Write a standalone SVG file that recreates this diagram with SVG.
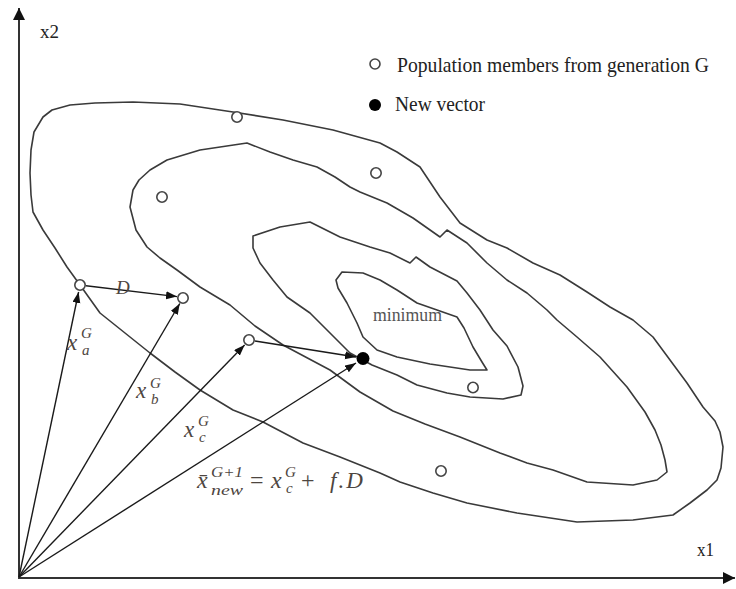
<svg xmlns="http://www.w3.org/2000/svg" width="736" height="589" viewBox="0 0 736 589">
<style>
.contour{fill:none;stroke:#3a3a3a;stroke-width:1.6;stroke-linejoin:round;stroke-linecap:round}
.axis{stroke:#333;stroke-width:2;fill:none}
.vec{stroke:#1a1a1a;stroke-width:1.4;fill:none}
.pop{fill:#fff;stroke:#444;stroke-width:1.6}
.new{fill:#000}
.serif{font-family:"Liberation Serif","Times New Roman",serif;fill:#222}
.math{font-family:"Liberation Serif","DejaVu Serif",serif;font-style:italic;fill:#4d4540}
</style>
<defs>
<marker id="arr" markerUnits="userSpaceOnUse" markerWidth="12" markerHeight="9" refX="11" refY="4" orient="auto">
<path d="M0,0 L11,4 L0,8 Z" fill="#111"/>
</marker>
<marker id="axarr" markerUnits="userSpaceOnUse" markerWidth="13" markerHeight="13" refX="12" refY="6" orient="auto">
<path d="M0,0 L12,6 L0,12 Z" fill="#111"/>
</marker>
</defs>
<rect width="736" height="589" fill="#fff"/>

<g id="axes">
<line class="axis" x1="19" y1="578" x2="19" y2="8" marker-end="url(#axarr)"/>
<line class="axis" x1="18" y1="578" x2="735" y2="578" marker-end="url(#axarr)"/>
<text class="serif" x="40" y="38" font-size="18" textLength="19" lengthAdjust="spacingAndGlyphs">x2</text>
<text class="serif" x="697" y="556" font-size="18" textLength="17" lengthAdjust="spacingAndGlyphs">x1</text>
</g>

<g id="contours">
<path id="contour1" class="contour" d="M80,285 L100,313 L125,333 L150,353 L175,372 L200,390 L233,410 L263,422 L303,443 L340,457 L380,473 L400,482 L433,493 L467,503 L517,513 L577,522 L633,520 L673,515 L690,503 L707,490 L717,480 L721,468 L723,447 L720,432 L715,421 L703,407 L687,383 L670,360 L653,337 L633,320 L610,307 L587,292 L560,275 L533,263 L507,248 L487,240 L460,223 L440,197 L420,167 L397,152 L380,143 L333,130 L283,120 L233,112 L180,104 L133,102 L95,103 L70,105 L52,110 L43,117 L34,132 L31,150 L30,173 L31,195 L33,212 L43,230 L55,248 L67,267 Z"/>
<path id="contour2" class="contour" d="M130,207 L133,190 L139,180 L150,170 L167,160 L200,150 L247,143 L270,152 L293,160 L317,167 L335,177 L350,187 L360,192 L387,203 L413,218 L440,237 L447,230 L467,243 L487,263 L507,280 L527,293 L547,310 L557,320 L577,337 L600,357 L627,387 L645,412 L655,430 L661,445 L665,460 L667,472 L657,480 L633,485 L587,482 L553,470 L527,463 L500,453 L460,437 L425,424 L393,411 L360,392 L330,370 L283,345 L255,326 L230,305 L200,287 L177,270 L160,258 L147,247 L136,230 Z"/>
<path id="contour3" class="contour" d="M253,236 L280,227 L310,222 L340,237 L370,247 L390,253 L410,263 L416,257 L430,267 L457,281 L467,293 L480,310 L493,330 L507,346 L518,367 L523,386 L521,395 L503,399 L470,397 L447,393 L417,385 L397,375 L372,365 L350,353 L330,333 L310,313 L287,297 L273,280 L260,263 L253,248 Z"/>
<path id="contour4" class="contour" d="M336,280 L342,272 L363,273 L380,280 L397,290 L417,303 L437,310 L457,317 L464,328 L473,347 L482,362 L487,370 L470,370 L430,364 L397,357 L377,350 L363,337 L357,323 L347,303 L338,288 Z"/>
<text class="serif" x="373" y="321" font-size="19" textLength="69" lengthAdjust="spacingAndGlyphs" style="fill:#555">minimum</text>
</g>

<g id="connectors">
<line class="vec" x1="19" y1="577" x2="78.6" y2="292" marker-end="url(#arr)"/>
<line class="vec" x1="19" y1="577" x2="179.8" y2="303.5" marker-end="url(#arr)"/>
<line class="vec" x1="19" y1="577" x2="244.6" y2="345" marker-end="url(#arr)"/>
<line class="vec" x1="19" y1="577" x2="356" y2="363" marker-end="url(#arr)"/>
<line class="vec" x1="86" y1="285.7" x2="177" y2="296.6" marker-end="url(#arr)"/>
<line class="vec" x1="255" y1="341" x2="356" y2="357" marker-end="url(#arr)"/>
</g>

<g id="labels">
<text class="math" x="116" y="294" font-size="19">D</text>
<text class="math" x="67" y="350" font-size="23">x</text>
<text class="math" x="81" y="338" font-size="15">G</text>
<text class="math" x="82" y="355" font-size="15">a</text>
<text class="math" x="136" y="398" font-size="23">x</text>
<text class="math" x="150" y="388" font-size="15">G</text>
<text class="math" x="151" y="404" font-size="15">b</text>
<text class="math" x="184" y="437" font-size="23">x</text>
<text class="math" x="198" y="426" font-size="15">G</text>
<text class="math" x="199" y="442" font-size="15">c</text>
<text class="math" x="197" y="488" font-size="24">x̄</text>
<text class="math" x="211" y="477" font-size="15" textLength="32" lengthAdjust="spacingAndGlyphs">G+1</text>
<text class="math" x="211" y="495" font-size="15" textLength="32" lengthAdjust="spacingAndGlyphs">new</text>
<text class="math" x="250" y="488" font-size="24" style="font-style:normal">=</text>
<text class="math" x="271" y="488" font-size="24">x</text>
<text class="math" x="285" y="477" font-size="15">G</text>
<text class="math" x="286" y="493" font-size="15">c</text>
<text class="math" x="301" y="488" font-size="24" style="font-style:normal">+</text>
<text class="math" x="330" y="488" font-size="23" letter-spacing="2">f.D</text>
</g>

<g id="node-p1"><circle class="pop" cx="237" cy="117" r="5.2"/></g>
<g id="node-p2"><circle class="pop" cx="162" cy="197" r="5.2"/></g>
<g id="node-p3"><circle class="pop" cx="376" cy="173" r="5.2"/></g>
<g id="node-xa"><circle class="pop" cx="80" cy="285" r="5.2"/></g>
<g id="node-xb"><circle class="pop" cx="183" cy="298" r="5.2"/></g>
<g id="node-xc"><circle class="pop" cx="249" cy="340" r="5.2"/></g>
<g id="node-p7"><circle class="pop" cx="473" cy="387.5" r="5.2"/></g>
<g id="node-p8"><circle class="pop" cx="441" cy="471" r="5.2"/></g>
<g id="node-new"><circle class="new" cx="363" cy="358.5" r="6.5"/></g>

<g id="legend">
<circle class="pop" cx="375" cy="64" r="5"/>
<text class="serif" x="397" y="72" font-size="21" textLength="312" lengthAdjust="spacingAndGlyphs">Population members from generation G</text>
<circle class="new" cx="375" cy="105" r="6"/>
<text class="serif" x="395" y="111" font-size="21" textLength="90" lengthAdjust="spacingAndGlyphs">New vector</text>
</g>
</svg>
